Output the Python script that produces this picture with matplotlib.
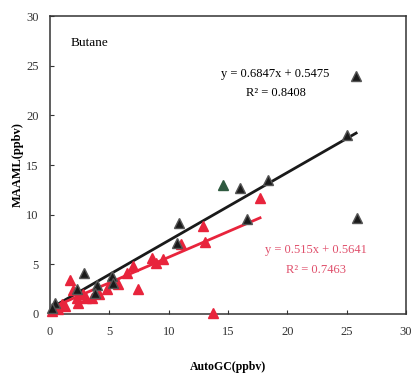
import matplotlib.pyplot as plt
import numpy as np

# MAAML vs AutoGC, black set
black_x = [25.8, 25.0, 16.0, 18.4, 25.9, 16.6, 10.9, 10.7, 2.9, 5.2, 5.3, 4.0, 3.8, 2.3, 0.4, 0.2]
black_y = [24.0, 18.0, 12.7, 13.5, 9.7, 9.6, 9.2, 7.1, 4.1, 3.8, 3.1, 2.9, 2.1, 2.5, 1.1, 0.6]
green_x = [14.6]
green_y = [13.0]

# red set
red_x = [17.7, 12.9, 11.0, 13.1, 8.6, 9.5, 8.9, 7.0, 6.5, 5.2, 1.7, 1.9, 7.4, 13.7,
         2.8, 3.0, 2.3, 0.7, 1.3, 2.4, 3.5, 4.1, 4.8, 5.7, 0.2, 0.3, 1.0]
red_y = [11.7, 8.9, 7.0, 7.2, 5.6, 5.5, 5.1, 4.8, 4.1, 3.3, 3.4, 2.4, 2.5, 0.1,
         2.0, 1.6, 1.6, 0.5, 0.8, 1.1, 1.6, 2.0, 2.5, 3.0, 0.3, 0.6, 1.0]

black_fit = (0.6847, 0.5475, 0.8408, 25.8)
red_fit = (0.515, 0.5641, 0.7463, 17.7)

serif = "Liberation Serif"
black = "#1a1a1a"
red = "#e8243c"

fig = plt.figure(figsize=(4.12, 3.75), dpi=100)
ax = fig.add_axes([0.1214, 0.1627, 0.864, 0.7946])

for (slope, icpt, r2, xmax), col in [(black_fit, black), (red_fit, red)]:
    xs = np.array([0.0, xmax])
    ax.plot(xs, slope * xs + icpt, color=col, lw=2.0, zorder=2)

ax.plot(red_x, red_y, "^", color=red, ms=6.5, mec=red, zorder=3, clip_on=False)
ax.plot(black_x, black_y, "^", color=black, ms=6.5, mec="#555555", zorder=4, clip_on=False)
ax.plot(green_x, green_y, "^", color="#2f5a40", ms=6.5, mec="#2f5a40", zorder=4)

ax.text(1.7, 27.3, "Butane", fontsize=9.5, family=serif, va="center")
ax.text(19.0, 24.2, "y = 0.6847x + 0.5475", fontsize=9, family=serif, ha="center", va="center")
ax.text(19.0, 22.2, "R\u00b2 = 0.8408", fontsize=9, family=serif, ha="center", va="center")
ax.text(22.4, 6.4, "y = 0.515x + 0.5641", fontsize=9, family=serif, ha="center",
        va="center", color="#e0506c")
ax.text(22.4, 4.4, "R\u00b2 = 0.7463", fontsize=9, family=serif, ha="center",
        va="center", color="#e0506c")

ax.set_xlim(0, 30)
ax.set_ylim(0, 30)
ax.set_xticks(range(0, 31, 5))
ax.set_yticks(range(0, 31, 5))
ax.tick_params(direction="in", length=3, width=0.8, labelsize=9, colors="#333333")
ax.tick_params(axis="x", pad=9)
ax.tick_params(axis="y", pad=8)
for lbl in ax.get_xticklabels() + ax.get_yticklabels():
    lbl.set_family(serif)
for sp in ax.spines.values():
    sp.set_color("#333333")
    sp.set_linewidth(1.1)

ax.set_xlabel("AutoGC(ppbv)", fontsize=8.5, family=serif, fontweight="bold", labelpad=16)
ax.set_ylabel("MAAML(ppbv)", fontsize=9, family=serif, fontweight="bold", labelpad=2)

fig.savefig("out.png", dpi=100)
